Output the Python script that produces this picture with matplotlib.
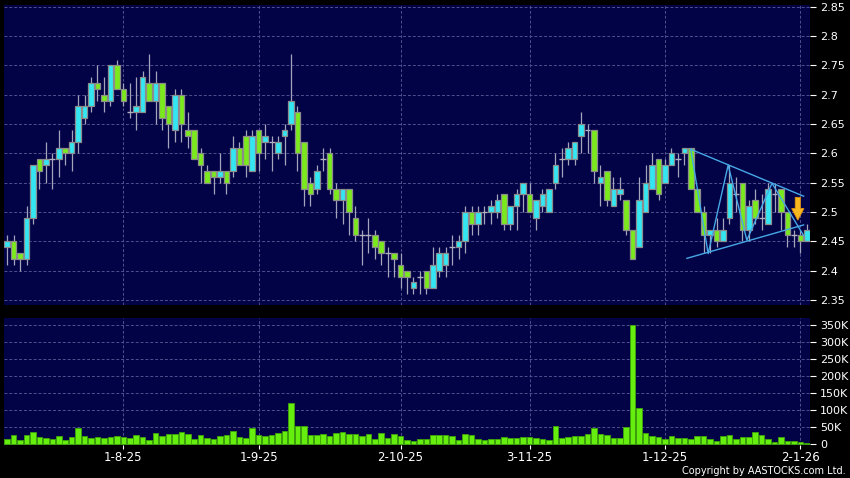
import matplotlib.pyplot as plt
from matplotlib.patches import FancyArrow

# daily OHLC (oldest first)
opens = [2.44, 2.45, 2.43, 2.42, 2.49, 2.59, 2.58, 2.59, 2.59, 2.61,
         2.60, 2.62, 2.66, 2.68, 2.72, 2.70, 2.69, 2.75, 2.71, 2.67,
         2.67, 2.67, 2.72, 2.69, 2.72, 2.68, 2.64, 2.70, 2.64, 2.64,
         2.60, 2.57, 2.57, 2.56, 2.57, 2.57, 2.61, 2.63, 2.57, 2.64,
         2.62, 2.62, 2.60, 2.63, 2.65, 2.67, 2.62, 2.55, 2.54, 2.59,
         2.60, 2.54, 2.52, 2.54, 2.49, 2.46, 2.46, 2.46, 2.45, 2.43,
         2.43, 2.41, 2.40, 2.37, 2.39, 2.40, 2.37, 2.40, 2.41, 2.44,
         2.44, 2.45, 2.50, 2.48, 2.50, 2.50, 2.50, 2.53, 2.48, 2.51,
         2.53, 2.53, 2.49, 2.51, 2.50, 2.55, 2.59, 2.59, 2.59, 2.63,
         2.64, 2.64, 2.55, 2.57, 2.51, 2.53, 2.52, 2.47, 2.44, 2.50,
         2.54, 2.59, 2.55, 2.58, 2.59, 2.60, 2.61, 2.54, 2.50, 2.46,
         2.47, 2.45, 2.49, 2.53, 2.55, 2.47, 2.52, 2.49, 2.48, 2.53,
         2.54, 2.50, 2.46, 2.46, 2.45]
highs = [2.46, 2.46, 2.43, 2.51, 2.58, 2.59, 2.62, 2.60, 2.64, 2.61,
         2.64, 2.70, 2.70, 2.73, 2.75, 2.73, 2.75, 2.76, 2.72, 2.72,
         2.73, 2.74, 2.77, 2.74, 2.72, 2.68, 2.71, 2.71, 2.67, 2.64,
         2.61, 2.58, 2.57, 2.60, 2.57, 2.63, 2.62, 2.64, 2.64, 2.64,
         2.65, 2.63, 2.63, 2.65, 2.77, 2.68, 2.62, 2.56, 2.58, 2.61,
         2.61, 2.55, 2.54, 2.54, 2.51, 2.47, 2.49, 2.47, 2.45, 2.44,
         2.43, 2.43, 2.40, 2.39, 2.40, 2.40, 2.44, 2.44, 2.44, 2.46,
         2.46, 2.51, 2.51, 2.51, 2.51, 2.52, 2.53, 2.53, 2.51, 2.54,
         2.55, 2.55, 2.52, 2.54, 2.54, 2.60, 2.61, 2.62, 2.62, 2.67,
         2.65, 2.64, 2.58, 2.57, 2.56, 2.56, 2.52, 2.47, 2.56, 2.58,
         2.60, 2.59, 2.59, 2.61, 2.60, 2.61, 2.61, 2.54, 2.51, 2.47,
         2.49, 2.49, 2.58, 2.56, 2.55, 2.52, 2.54, 2.53, 2.55, 2.55,
         2.54, 2.50, 2.47, 2.47, 2.48]
lows = [2.41, 2.41, 2.40, 2.41, 2.48, 2.54, 2.55, 2.54, 2.56, 2.58,
        2.57, 2.60, 2.65, 2.67, 2.69, 2.67, 2.68, 2.71, 2.68, 2.66,
        2.64, 2.67, 2.69, 2.65, 2.64, 2.61, 2.62, 2.62, 2.61, 2.59,
        2.55, 2.55, 2.53, 2.55, 2.53, 2.56, 2.58, 2.56, 2.57, 2.57,
        2.59, 2.57, 2.59, 2.58, 2.64, 2.57, 2.51, 2.51, 2.53, 2.57,
        2.53, 2.49, 2.48, 2.46, 2.45, 2.41, 2.43, 2.42, 2.41, 2.39,
        2.39, 2.37, 2.36, 2.36, 2.36, 2.36, 2.37, 2.39, 2.39, 2.41,
        2.42, 2.43, 2.46, 2.46, 2.48, 2.48, 2.49, 2.47, 2.47, 2.47,
        2.50, 2.50, 2.47, 2.50, 2.50, 2.54, 2.56, 2.58, 2.58, 2.60,
        2.60, 2.55, 2.51, 2.51, 2.51, 2.52, 2.46, 2.42, 2.44, 2.50,
        2.54, 2.52, 2.55, 2.58, 2.56, 2.58, 2.54, 2.50, 2.43, 2.43,
        2.44, 2.45, 2.48, 2.50, 2.45, 2.45, 2.48, 2.47, 2.48, 2.50,
        2.47, 2.44, 2.44, 2.43, 2.45]
closes = [2.45, 2.42, 2.42, 2.49, 2.58, 2.57, 2.59, 2.59, 2.61, 2.60,
          2.62, 2.68, 2.68, 2.72, 2.71, 2.69, 2.75, 2.71, 2.69, 2.67,
          2.68, 2.73, 2.69, 2.72, 2.66, 2.65, 2.70, 2.65, 2.63, 2.59,
          2.58, 2.55, 2.56, 2.57, 2.55, 2.61, 2.58, 2.58, 2.63, 2.60,
          2.63, 2.62, 2.62, 2.64, 2.69, 2.60, 2.54, 2.53, 2.57, 2.59,
          2.54, 2.52, 2.54, 2.50, 2.46, 2.46, 2.46, 2.44, 2.43, 2.43,
          2.42, 2.39, 2.39, 2.38, 2.39, 2.37, 2.41, 2.43, 2.43, 2.44,
          2.45, 2.50, 2.48, 2.50, 2.50, 2.51, 2.52, 2.48, 2.51, 2.53,
          2.55, 2.50, 2.52, 2.53, 2.54, 2.58, 2.59, 2.61, 2.62, 2.65,
          2.64, 2.57, 2.56, 2.52, 2.54, 2.54, 2.47, 2.42, 2.52, 2.55,
          2.58, 2.53, 2.58, 2.60, 2.59, 2.61, 2.54, 2.50, 2.46, 2.47,
          2.45, 2.47, 2.55, 2.53, 2.47, 2.51, 2.49, 2.49, 2.54, 2.53,
          2.50, 2.46, 2.46, 2.45, 2.47]

# volume in thousands of shares
volume_k = [13, 26, 11, 27, 35, 21, 17, 15, 24, 11,
            20, 46, 23, 17, 21, 17, 19, 22, 21, 17,
            26, 21, 11, 31, 24, 30, 28, 34, 29, 14,
            25, 17, 13, 23, 26, 38, 20, 17, 45, 25,
            22, 25, 33, 39, 119, 51, 51, 25, 25, 29,
            22, 31, 35, 28, 29, 24, 28, 13, 31, 18,
            30, 24, 12, 7, 15, 15, 27, 26, 27, 23,
            11, 28, 25, 13, 11, 13, 14, 19, 18, 17,
            19, 19, 18, 15, 10, 52, 17, 19, 23, 23,
            29, 45, 30, 25, 17, 17, 48, 351, 106, 31,
            24, 20, 13, 24, 17, 17, 13, 24, 24, 13,
            8, 23, 25, 13, 19, 19, 35, 27, 15, 4,
            19, 8, 8, 6, 3]

date_labels = ['1-8-25', '1-9-25', '2-10-25', '3-11-25', '1-12-25', '2-1-26']
date_pos = [18, 39, 61, 81, 102, 123]

price_ticks = [2.35, 2.4, 2.45, 2.5, 2.55, 2.6, 2.65, 2.7, 2.75, 2.8, 2.85]
vol_ticks = [0, 50, 100, 150, 200, 250, 300, 350]

# symmetrical triangle drawn on the chart
upper_x, upper_y = [106.0, 123.5], [2.607, 2.527]
lower_x, lower_y = [105.4, 123.5], [2.421, 2.478]
zig_x = [106.0, 108.7, 111.8, 114.7, 118.6, 123.5]
zig_y = [2.607, 2.429, 2.580, 2.452, 2.549, 2.460]

BG = '#000000'
PANEL = '#020246'
UP = '#33e6f2'
DOWN = '#7aea1c'
GRID = '#50508e'

fig = plt.figure(figsize=(8.5, 4.78), dpi=100, facecolor=BG)
ax = fig.add_axes([0.0047, 0.362, 0.9483, 0.6275], facecolor=PANEL)
axv = fig.add_axes([0.0047, 0.069, 0.9483, 0.2657], facecolor=PANEL)

n = len(opens)
idx = list(range(n))

# wicks
ax.vlines(idx, lows, highs, color='#a4a4bc', lw=0.9, zorder=2)

# bodies
for i in idx:
    o, c = opens[i], closes[i]
    if o == c:
        ax.hlines(o, i - 0.45, i + 0.45, color='#b0b0c0', lw=1.0, zorder=3)
    else:
        col = UP if c > o else DOWN
        ax.bar(i, abs(c - o), bottom=min(o, c), width=0.86, color=col,
               edgecolor='#8c8c8c', linewidth=0.9, zorder=3)

ax.plot(upper_x, upper_y, color='#46a8e6', lw=1.0, zorder=4)
ax.plot(lower_x, lower_y, color='#46a8e6', lw=1.0, zorder=4)
ax.plot(zig_x, zig_y, color='#46a8e6', lw=1.0, zorder=4)

ax.add_patch(FancyArrow(122.6, 2.525, 0, -0.039, width=0.8, head_width=1.9,
                        head_length=0.02, length_includes_head=True,
                        facecolor='#f6b81e', edgecolor='#e09010', lw=0.6, zorder=5))

ax.set_xlim(-0.5, 124.5)
ax.set_ylim(2.3415, 2.853)
ax.set_yticks(price_ticks)
ax.set_yticklabels([f'{t:g}' for t in price_ticks])
ax.set_xticks(date_pos)
ax.tick_params(axis='x', bottom=False, labelbottom=False)

# volume bars
axv.bar(idx, volume_k, width=0.86, color='#66ee0e', edgecolor='#3fa608',
        linewidth=0.6, zorder=3)
axv.set_xlim(-0.5, 124.5)
axv.set_ylim(-3.9, 371.6)
axv.set_yticks(vol_ticks)
axv.set_yticklabels([f'{t}K' if t else '0' for t in vol_ticks])
axv.set_xticks(date_pos)
axv.set_xticklabels(date_labels)

for a in (ax, axv):
    a.yaxis.tick_right()
    a.grid(True, color=GRID, linestyle=(0, (3, 2)), lw=0.7, zorder=0)
    a.set_axisbelow(True)
    for s in a.spines.values():
        s.set_visible(False)
    a.tick_params(axis='y', colors='white', length=4, width=0.8, pad=3,
                  labelsize=8)
    a.tick_params(axis='x', colors='white', length=3, width=0.8, pad=1.5,
                  labelsize=8.5)

fig.text(0.995, 0.0146, 'Copyright by AASTOCKS.com Ltd.', color='white',
         fontsize=7, ha='right', va='center')

fig.savefig('out.png', dpi=100, facecolor=BG)
